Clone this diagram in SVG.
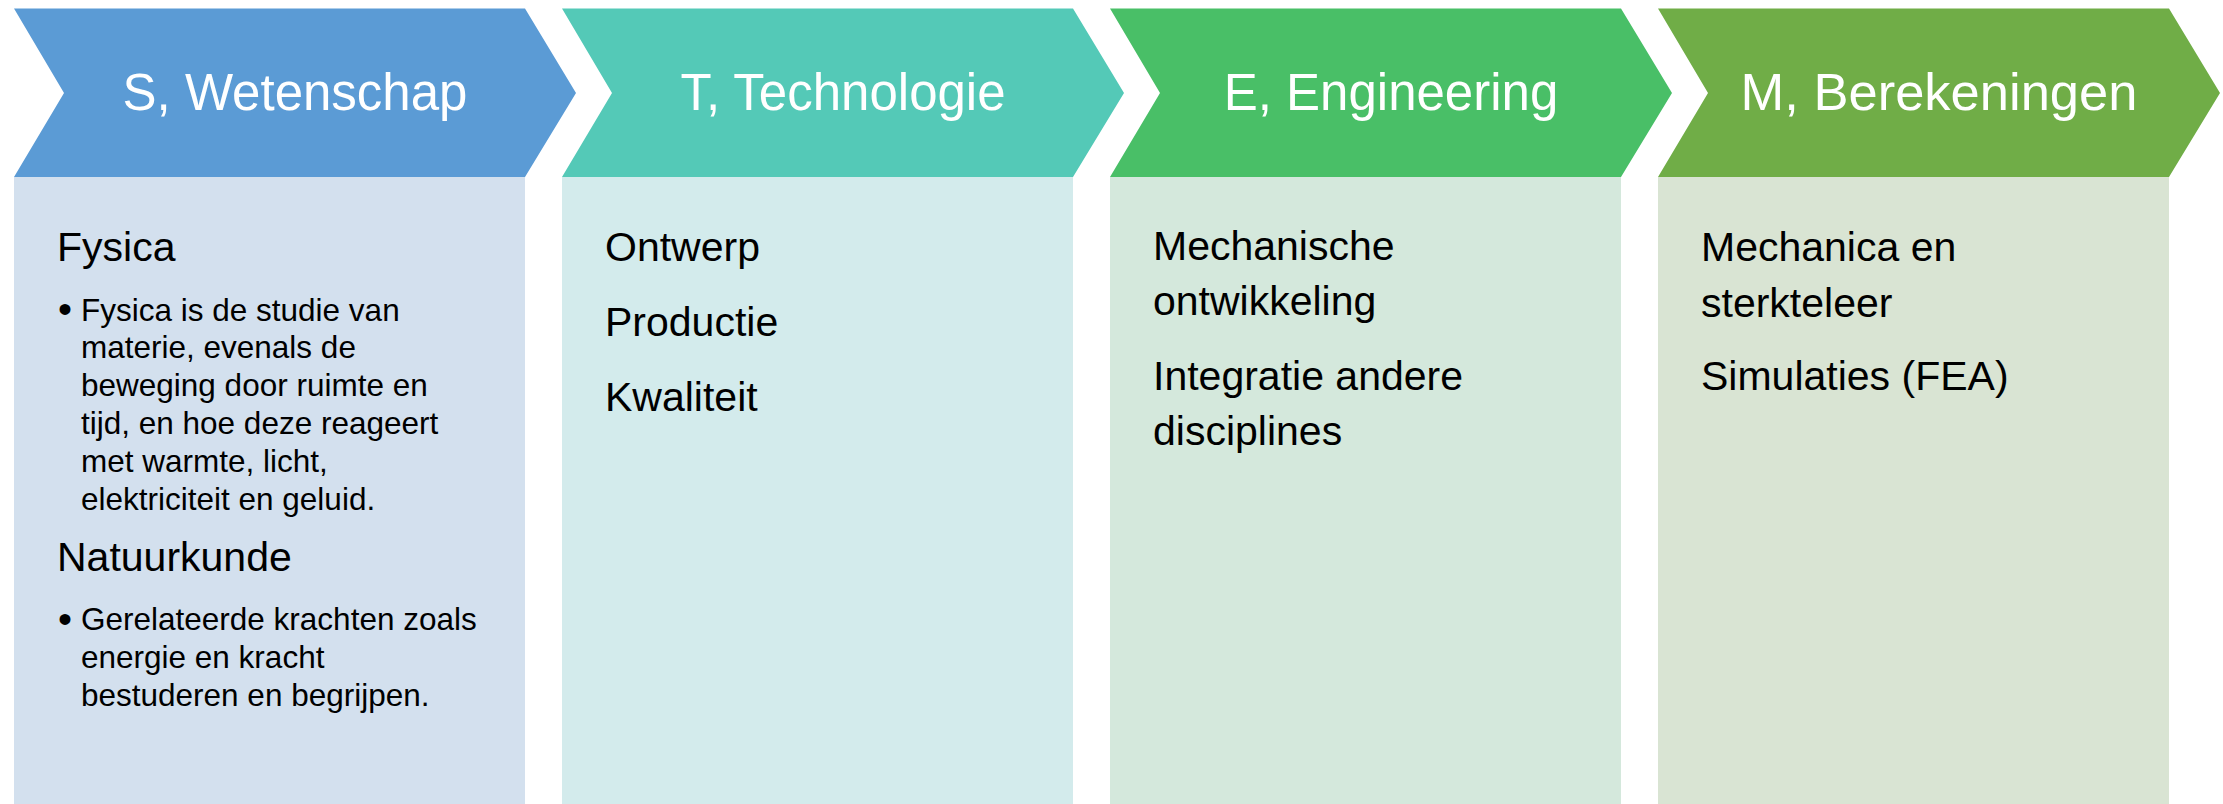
<svg xmlns="http://www.w3.org/2000/svg" width="2223" height="804" viewBox="0 0 2223 804">
<style>
.title{font-family:"Liberation Sans",Arial,sans-serif;font-size:51px;fill:#ffffff;text-anchor:middle}
.head{font-family:"Liberation Sans",Arial,sans-serif;font-size:41px;fill:#000000}
.bul{font-family:"Liberation Sans",Arial,sans-serif;font-size:31.5px;fill:#000000}
.dot{font-family:"Liberation Sans",Arial,sans-serif;font-size:40px;fill:#000000}
</style>
<rect width="2223" height="804" fill="#ffffff"/>
<g id="connectors"></g>
<g id="node-S">
<polygon points="14,8.5 525,8.5 576,93 525,177 14,177 64,93" fill="#5B9BD5"/>
<rect x="14" y="177" width="511" height="627" fill="#D3E0EE"/>
<text class="title" x="295" y="110">S, Wetenschap</text>
<text class="head" x="57" y="261">Fysica</text>
<text class="dot" x="58" y="323">•</text>
<text class="bul" x="81" y="320.5">Fysica is de studie van</text>
<text class="bul" x="81" y="358.3">materie, evenals de</text>
<text class="bul" x="81" y="396.1">beweging door ruimte en</text>
<text class="bul" x="81" y="433.9">tijd, en hoe deze reageert</text>
<text class="bul" x="81" y="471.7">met warmte, licht,</text>
<text class="bul" x="81" y="509.5">elektriciteit en geluid.</text>
<text class="head" x="57" y="571">Natuurkunde</text>
<text class="dot" x="58" y="632.5">•</text>
<text class="bul" x="81" y="630">Gerelateerde krachten zoals</text>
<text class="bul" x="81" y="667.8">energie en kracht</text>
<text class="bul" x="81" y="705.6">bestuderen en begrijpen.</text>
</g>
<g id="node-T">
<polygon points="562,8.5 1073,8.5 1124,93 1073,177 562,177 612,93" fill="#54C9B7"/>
<rect x="562" y="177" width="511" height="627" fill="#D3EBEC"/>
<text class="title" x="843" y="110">T, Technologie</text>
<text class="head" x="605" y="261">Ontwerp</text>
<text class="head" x="605" y="336">Productie</text>
<text class="head" x="605" y="411">Kwaliteit</text>
</g>
<g id="node-E">
<polygon points="1110,8.5 1621,8.5 1672,93 1621,177 1110,177 1160,93" fill="#49BF67"/>
<rect x="1110" y="177" width="511" height="627" fill="#D4E8DC"/>
<text class="title" x="1391" y="110">E, Engineering</text>
<text class="head" x="1153" y="260">Mechanische</text>
<text class="head" x="1153" y="315">ontwikkeling</text>
<text class="head" x="1153" y="390">Integratie andere</text>
<text class="head" x="1153" y="445">disciplines</text>
</g>
<g id="node-M">
<polygon points="1658,8.5 2169,8.5 2220,93 2169,177 1658,177 1708,93" fill="#70AD47"/>
<rect x="1658" y="177" width="511" height="627" fill="#D9E4D3"/>
<text class="title" x="1939" y="110" style="font-size:52.5px">M, Berekeningen</text>
<text class="head" x="1701" y="261">Mechanica en</text>
<text class="head" x="1701" y="317">sterkteleer</text>
<text class="head" x="1701" y="390">Simulaties (FEA)</text>
</g>
</svg>
